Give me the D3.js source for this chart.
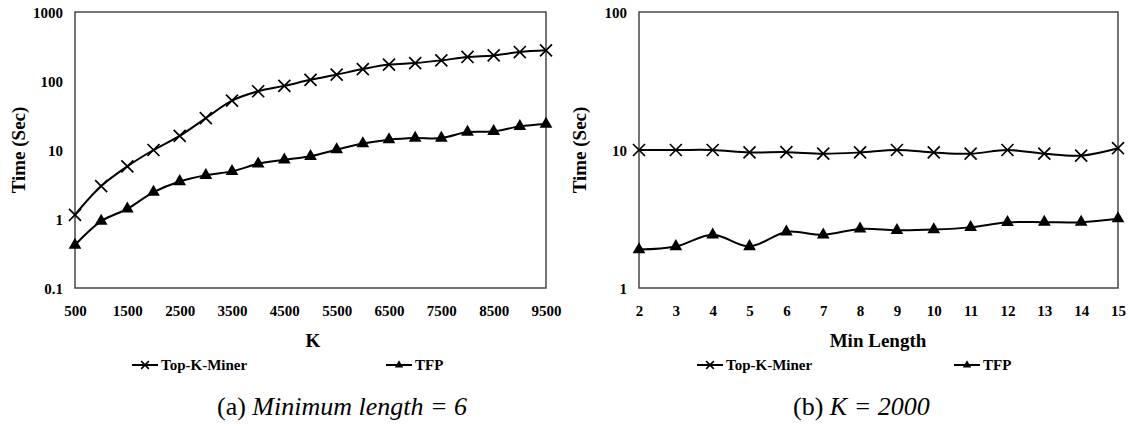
<!DOCTYPE html>
<html>
<head>
<meta charset="utf-8">
<script src="https://cdn.jsdelivr.net/npm/d3@7"></script>
<style>
  html, body { margin: 0; padding: 0; background: #fff; }
  svg { display: block; }
  svg text { font-family: "Liberation Serif", "DejaVu Serif", serif !important; fill: #000; }
</style>
</head>
<body>
<svg id="chart" width="1130" height="426"></svg>
<script>
// ---- Data ----
const kValues = [500,1000,1500,2000,2500,3000,3500,4000,4500,5000,5500,6000,6500,7000,7500,8000,8500,9000,9500];
const kTickLabels = [500,1500,2500,3500,4500,5500,6500,7500,8500,9500];
const topKMinerA = [1.15,3.0,5.8,10,16,29,52,71,85,104,124,149,173,182,199,223,235,263,278];
const tfpA = [0.42,0.93,1.4,2.45,3.5,4.3,4.9,6.3,7.2,8.1,10.1,12.4,14.1,14.9,14.9,18.2,18.6,22,23.8];
const yTicksA = [0.1,1,10,100,1000];

const minLengths = [2,3,4,5,6,7,8,9,10,11,12,13,14,15];
const topKMinerB = [10,10,10,9.6,9.65,9.4,9.6,10,9.6,9.4,10,9.4,9.1,10.3];
const tfpB = [1.9,2.0,2.43,2.0,2.55,2.43,2.68,2.62,2.65,2.75,2.99,3.0,3.0,3.18];
const yTicksB = [1,10,100];

const seriesNames = ["Top-K-Miner","TFP"];

// ---- Drawing ----
const FONT = '"Liberation Serif", "DejaVu Serif", serif';
const svg = d3.select("#chart");

function panel(cfg) {
  const g = svg.append("g").attr("font-family", FONT);
  const x = d3.scalePoint(cfg.cats, [cfg.left, cfg.right]);
  const y = d3.scaleLog(cfg.yDomain, [cfg.bottom, cfg.top]);

  // y axis labels
  const ya = d3.axisLeft(y).tickValues(cfg.yTicks).tickSize(0).tickPadding(12)
    .tickFormat(d => String(d));
  const yg = g.append("g").attr("transform", `translate(${cfg.left},0)`).call(ya)
    .attr("font-family", FONT);
  yg.select(".domain").remove();
  yg.selectAll("text").attr("font-family", FONT).style("font-size", "15px")
    .style("font-weight", "bold").attr("dy", "0.35em");

  // x axis labels
  const xa = d3.axisBottom(x).tickValues(cfg.xTicks).tickSize(0).tickPadding(17);
  const xg = g.append("g").attr("transform", `translate(0,${cfg.bottom})`).call(xa)
    .attr("font-family", FONT);
  xg.select(".domain").remove();
  xg.selectAll("text").attr("font-family", FONT).style("font-size", "15px")
    .style("font-weight", "bold");

  // plot box
  g.append("rect").attr("x", cfg.left).attr("y", cfg.top)
    .attr("width", cfg.right - cfg.left).attr("height", cfg.bottom - cfg.top)
    .attr("fill", "none").attr("stroke", "#3a3a3a").attr("stroke-width", 1.4);

  const line = d3.line().x((d, i) => x(cfg.cats[i])).y(d => y(d))
    .curve(d3.curveCatmullRom.alpha(0.5));

  // series lines
  [cfg.s1, cfg.s2].forEach(s => {
    g.append("path").datum(s).attr("d", line).attr("fill", "none")
      .attr("stroke", "#000").attr("stroke-width", 2);
  });

  // markers
  const xSym = d3.symbol(d3.symbolTimes, 96);
  const triSym = d3.symbol(d3.symbolTriangle, 70);
  g.selectAll(".mx").data(cfg.s1).join("path")
    .attr("transform", (d, i) => `translate(${x(cfg.cats[i])},${y(d)})`)
    .attr("d", xSym).attr("fill", "none").attr("stroke", "#000").attr("stroke-width", 1.7);
  g.selectAll(".mt").data(cfg.s2).join("path")
    .attr("transform", (d, i) => `translate(${x(cfg.cats[i])},${y(d)})`)
    .attr("d", triSym).attr("fill", "#000");

  // y title
  g.append("text").attr("transform", `translate(${cfg.yTitleX},${(cfg.top + cfg.bottom) / 2}) rotate(-90)`)
    .attr("text-anchor", "middle").attr("dy", "0.35em")
    .style("font-size", "19px").style("font-weight", "bold").text("Time (Sec)");

  // x title
  g.append("text").attr("x", cfg.xTitleX).attr("y", 347).attr("text-anchor", "middle")
    .style("font-size", "19px").style("font-weight", "bold").text(cfg.xTitle);

  // legend
  const legY = 365;
  const lx = [cfg.leg1, cfg.leg2];
  lx.forEach((lxv, k) => {
    g.append("line").attr("x1", lxv).attr("x2", lxv + 26).attr("y1", legY).attr("y2", legY)
      .attr("stroke", "#000").attr("stroke-width", 2);
    if (k === 0) {
      g.append("path").attr("transform", `translate(${lxv + 13},${legY})`)
        .attr("d", d3.symbol(d3.symbolTimes, 40)).attr("fill", "none")
        .attr("stroke", "#000").attr("stroke-width", 1.6);
    } else {
      g.append("path").attr("transform", `translate(${lxv + 13},${legY})`)
        .attr("d", d3.symbol(d3.symbolTriangle, 30)).attr("fill", "#000");
    }
    g.append("text").attr("x", lxv + 29).attr("y", legY).attr("dy", "0.35em")
      .style("font-size", "15px").style("font-weight", "bold").text(seriesNames[k]);
  });

  // caption
  const cap = g.append("text").attr("x", cfg.capX).attr("y", 415)
    .style("font-size", "26px");
  cap.append("tspan").text(cfg.capA);
  cap.append("tspan").style("font-style", "italic").text(cfg.capB);
}

panel({
  cats: kValues, xTicks: kTickLabels, yDomain: [0.1, 1000], yTicks: yTicksA,
  left: 75, right: 546, top: 12, bottom: 288,
  s1: topKMinerA, s2: tfpA,
  yTitleX: 18, xTitle: "K", xTitleX: 313,
  leg1: 132, leg2: 386,
  capX: 217, capA: "(a) ", capB: "Minimum length = 6"
});

panel({
  cats: minLengths, xTicks: minLengths, yDomain: [1, 100], yTicks: yTicksB,
  left: 639, right: 1118, top: 12, bottom: 288,
  s1: topKMinerB, s2: tfpB,
  yTitleX: 579, xTitle: "Min Length", xTitleX: 878,
  leg1: 697, leg2: 954,
  capX: 793, capA: "(b) ", capB: "K = 2000"
});
</script>
</body>
</html>
